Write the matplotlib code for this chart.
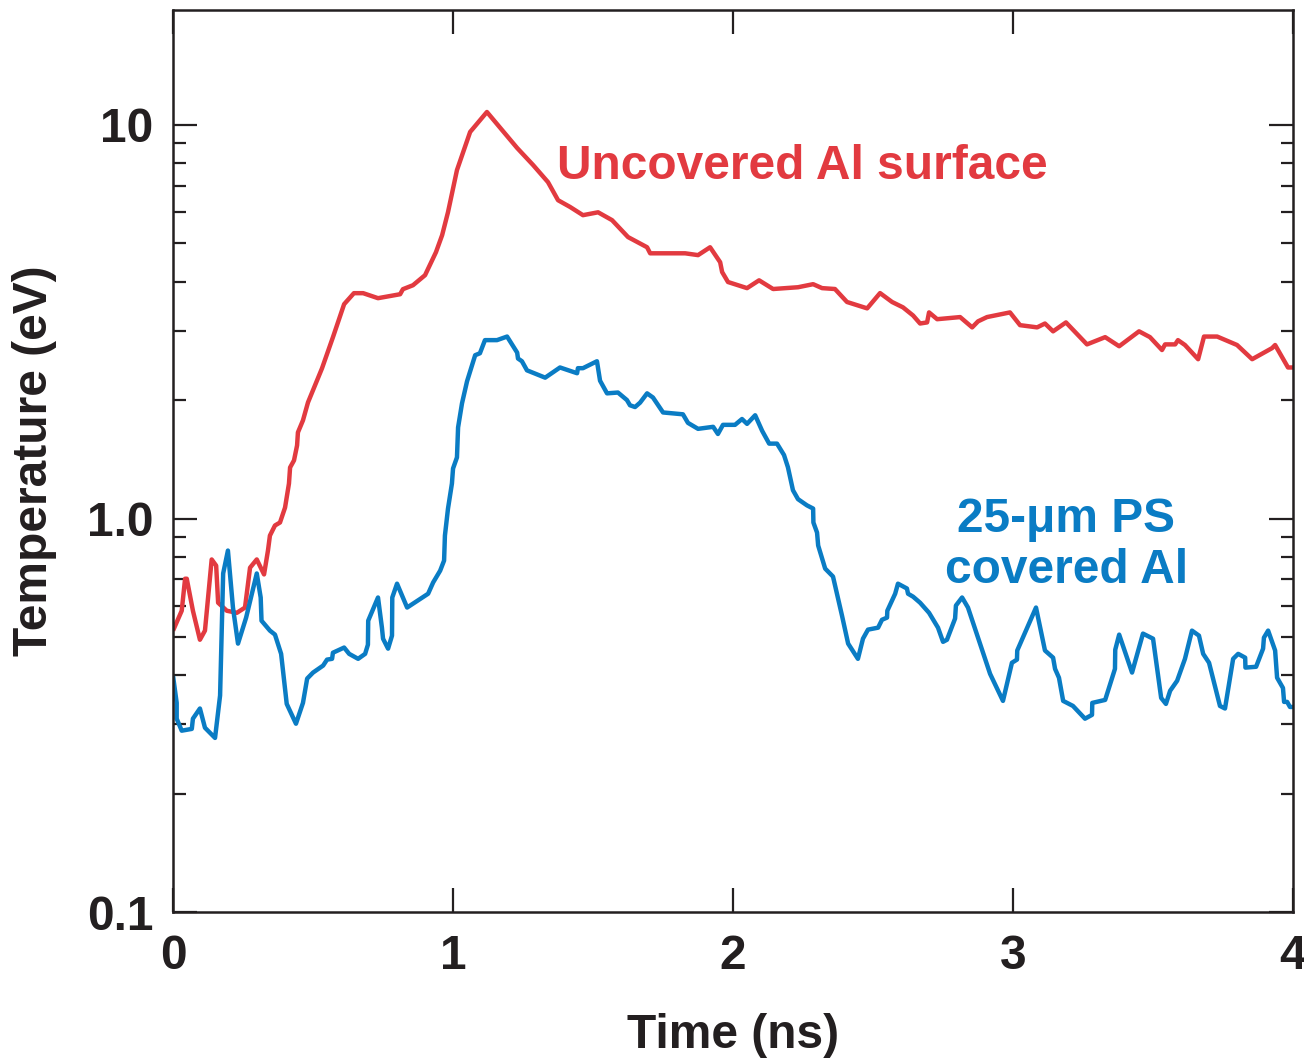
import matplotlib
matplotlib.use("Agg")
import matplotlib.pyplot as plt
from matplotlib.ticker import LogLocator, NullFormatter

# ---- data ----
red_t = [0.0, 0.031, 0.043, 0.049, 0.071, 0.096, 0.114, 0.138, 0.154, 0.161, 0.192, 0.228, 0.257,
         0.275, 0.299, 0.325, 0.339, 0.346, 0.364, 0.382, 0.400, 0.414, 0.418, 0.432, 0.443, 0.446,
         0.464, 0.482, 0.532, 0.571, 0.611, 0.646, 0.679, 0.732, 0.811, 0.821, 0.857, 0.900, 0.939,
         0.961, 0.982, 1.014, 1.061, 1.121, 1.175, 1.229, 1.286, 1.339, 1.375, 1.418, 1.464, 1.518,
         1.568, 1.625, 1.693, 1.704, 1.829, 1.875, 1.918, 1.954, 1.961, 1.982, 2.050, 2.093, 2.143,
         2.232, 2.286, 2.318, 2.364, 2.407, 2.479, 2.525, 2.568, 2.607, 2.643, 2.668, 2.693, 2.700,
         2.729, 2.811, 2.854, 2.875, 2.907, 2.989, 3.025, 3.086, 3.114, 3.143, 3.189, 3.264, 3.329,
         3.379, 3.450, 3.489, 3.532, 3.543, 3.579, 3.589, 3.614, 3.661, 3.682, 3.729, 3.800, 3.854,
         3.925, 3.936, 3.982, 4.0]
red_T = [0.519, 0.583, 0.703, 0.703, 0.583, 0.492, 0.519, 0.787, 0.759, 0.611, 0.583, 0.576, 0.594,
         0.750, 0.787, 0.721, 0.829, 0.905, 0.960, 0.977, 1.066, 1.227, 1.348, 1.405, 1.534, 1.655,
         1.776, 1.973, 2.408, 2.888, 3.505, 3.738, 3.738, 3.630, 3.715, 3.826, 3.916, 4.153, 4.751,
         5.248, 6.005, 7.68, 9.60, 10.79, 9.71, 8.74, 7.91, 7.16, 6.44, 6.19, 5.90, 6.00,
         5.73, 5.19, 4.89, 4.72, 4.72, 4.67, 4.89, 4.48, 4.23, 3.99, 3.85, 4.03, 3.83,
         3.87, 3.94, 3.85, 3.83, 3.55, 3.42, 3.74, 3.55, 3.44, 3.28, 3.13, 3.15, 3.34,
         3.21, 3.25, 3.06, 3.17, 3.25, 3.34, 3.10, 3.06, 3.13, 2.99, 3.15, 2.77, 2.89,
         2.74, 2.99, 2.89, 2.68, 2.77, 2.77, 2.84, 2.76, 2.54, 2.90, 2.90, 2.76, 2.54,
         2.71, 2.76, 2.42, 2.42]

blue_t = [0.0, 0.013, 0.013, 0.031, 0.067, 0.071, 0.096, 0.114, 0.150, 0.168, 0.179, 0.196, 0.214,
          0.232, 0.261, 0.299, 0.313, 0.316, 0.346, 0.364, 0.386, 0.406, 0.439, 0.464, 0.479, 0.500,
          0.536, 0.550, 0.568, 0.571, 0.611, 0.629, 0.661, 0.686, 0.696, 0.697, 0.732, 0.746, 0.750,
          0.768, 0.782, 0.783, 0.800, 0.836, 0.911, 0.929, 0.954, 0.968, 0.971, 0.982, 0.996, 1.000,
          1.014, 1.018, 1.032, 1.050, 1.079, 1.096, 1.114, 1.157, 1.193, 1.229, 1.232, 1.246, 1.264,
          1.329, 1.382, 1.443, 1.446, 1.464, 1.514, 1.525, 1.550, 1.589, 1.621, 1.632, 1.650, 1.668,
          1.693, 1.714, 1.750, 1.821, 1.839, 1.875, 1.929, 1.946, 1.964, 2.007, 2.032, 2.050, 2.079,
          2.104, 2.129, 2.157, 2.182, 2.196, 2.214, 2.232, 2.264, 2.286, 2.287, 2.300, 2.304, 2.329,
          2.357, 2.389, 2.411, 2.446, 2.464, 2.482, 2.518, 2.532, 2.550, 2.551, 2.579, 2.589, 2.621,
          2.625, 2.643, 2.668, 2.700, 2.732, 2.750, 2.764, 2.793, 2.796, 2.818, 2.839, 2.918, 2.964,
          2.996, 3.014, 3.015, 3.082, 3.114, 3.143, 3.150, 3.164, 3.179, 3.214, 3.257, 3.282, 3.283,
          3.329, 3.364, 3.365, 3.379, 3.425, 3.464, 3.500, 3.529, 3.546, 3.561, 3.586, 3.614, 3.639,
          3.664, 3.679, 3.700, 3.739, 3.757, 3.786, 3.804, 3.829, 3.830, 3.868, 3.893, 3.896, 3.911,
          3.936, 3.943, 3.964, 3.968, 3.979, 3.989, 4.0]
blue_T = [0.398, 0.340, 0.310, 0.289, 0.292, 0.310, 0.329, 0.294, 0.277, 0.355, 0.725, 0.829, 0.594,
          0.481, 0.560, 0.725, 0.630, 0.550, 0.519, 0.507, 0.453, 0.338, 0.301, 0.340, 0.392, 0.406,
          0.423, 0.438, 0.440, 0.456, 0.470, 0.453, 0.440, 0.453, 0.478, 0.550, 0.630, 0.528, 0.495,
          0.467, 0.504, 0.630, 0.683, 0.594, 0.644, 0.688, 0.737, 0.782, 0.905, 1.060, 1.227, 1.340,
          1.430, 1.704, 1.962, 2.232, 2.60, 2.63, 2.84, 2.84, 2.90, 2.64, 2.55, 2.51, 2.38,
          2.28, 2.42, 2.34, 2.41, 2.41, 2.51, 2.24, 2.08, 2.09, 2.00, 1.94, 1.92, 1.97,
          2.08, 2.03, 1.86, 1.84, 1.75, 1.69, 1.71, 1.64, 1.73, 1.73, 1.79, 1.74, 1.83,
          1.67, 1.55, 1.55, 1.45, 1.35, 1.18, 1.12, 1.08, 1.06, 0.977, 0.921, 0.854, 0.746,
          0.712, 0.567, 0.481, 0.440, 0.495, 0.522, 0.528, 0.553, 0.560, 0.583, 0.644, 0.683, 0.664,
          0.644, 0.633, 0.611, 0.576, 0.528, 0.486, 0.492, 0.557, 0.601, 0.630, 0.594, 0.403, 0.344,
          0.430, 0.438, 0.462, 0.594, 0.462, 0.443, 0.415, 0.394, 0.344, 0.334, 0.310, 0.317, 0.340,
          0.346, 0.415, 0.464, 0.507, 0.406, 0.510, 0.495, 0.350, 0.338, 0.365, 0.387, 0.440, 0.519,
          0.504, 0.453, 0.430, 0.334, 0.329, 0.440, 0.453, 0.443, 0.418, 0.420, 0.467, 0.498, 0.519,
          0.462, 0.394, 0.371, 0.342, 0.342, 0.332, 0.332]

x_ticks = [0, 1, 2, 3, 4]
x_tick_labels = ["0", "1", "2", "3", "4"]
y_ticks = [0.1, 1.0, 10]
y_tick_labels = ["0.1", "1.0", "10"]

RED = "#E23A40"
BLUE = "#0A7CC4"
INK = "#231F20"
FS = 34.5

plt.rcParams['font.family'] = ['Liberation Sans', 'DejaVu Sans']
plt.rcParams['font.weight'] = 'bold'

fig = plt.figure(figsize=(13.04, 10.62), dpi=100)
ax = fig.add_axes([0.1327, 0.1412, 0.8589, 0.8494])

ax.plot(red_t, red_T, color=RED, lw=3.2, solid_joinstyle='round', solid_capstyle='butt')
ax.plot(blue_t, blue_T, color=BLUE, lw=3.2, solid_joinstyle='round', solid_capstyle='butt')

ax.set_yscale('log')
ax.set_xlim(0, 4)
ax.set_ylim(0.1, 19.6)

ax.set_xticks(x_ticks)
ax.set_xticklabels(x_tick_labels)
ax.set_yticks(y_ticks)
ax.set_yticklabels(y_tick_labels)
ax.yaxis.set_minor_locator(LogLocator(base=10, subs=range(2, 10)))
ax.yaxis.set_minor_formatter(NullFormatter())

ax.tick_params(axis='both', which='major', direction='in', length=17, width=1.6,
               colors=INK, labelsize=FS, top=True, right=True)
ax.tick_params(axis='x', which='major', pad=16)
ax.tick_params(axis='y', which='major', pad=14)
ax.tick_params(axis='y', which='minor', direction='in', length=9, width=1.6,
               colors=INK, right=True)
for lab in ax.get_xticklabels() + ax.get_yticklabels():
    lab.set_fontweight('bold')
for sp in ax.spines.values():
    sp.set_linewidth(1.8)
    sp.set_color(INK)

ax.set_xlabel("Time (ns)", fontsize=FS, fontweight='bold', color=INK, labelpad=24)
ax.set_ylabel("Temperature (eV)", fontsize=FS, fontweight='bold', color=INK, labelpad=22)

ax.text(1.371, 7.85, "Uncovered Al surface", color=RED, fontsize=FS, fontweight='bold',
        ha='left', va='center')
ax.text(3.19, 0.855, "25-\u03bcm PS\ncovered Al", color=BLUE, fontsize=FS, fontweight='bold',
        ha='center', va='center', linespacing=1.17)

fig.savefig("out.png", dpi=100)
